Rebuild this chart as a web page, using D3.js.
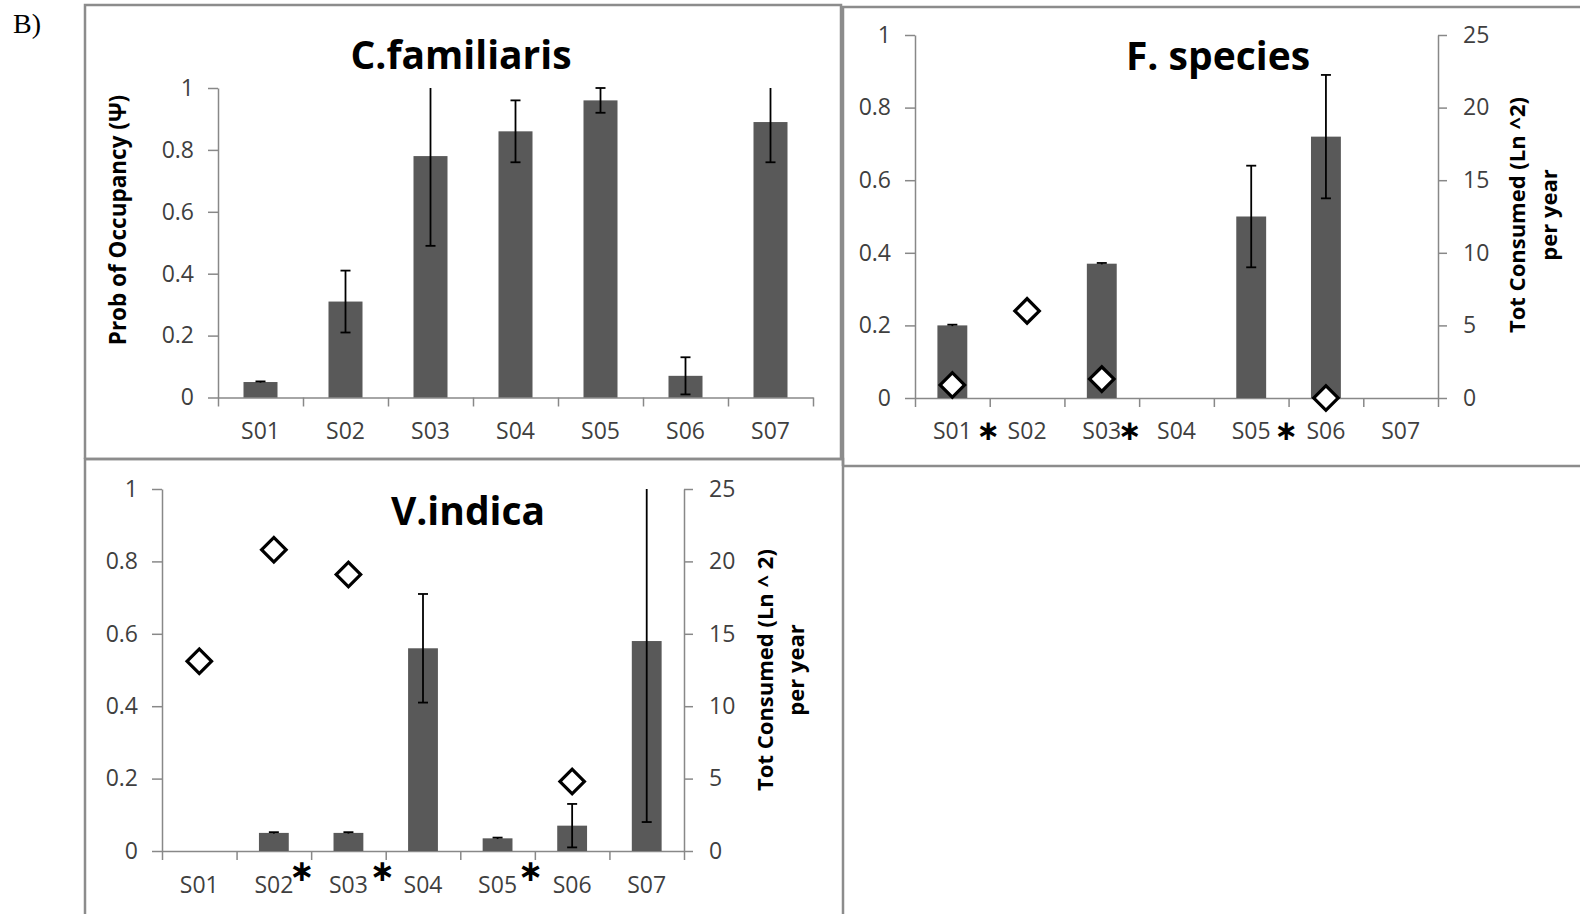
<!DOCTYPE html>
<html>
<head>
<meta charset="utf-8">
<script src="https://cdn.jsdelivr.net/npm/d3@7"></script>
<style>
  html, body { margin: 0; padding: 0; background: #fff; }
  svg { display: block; }
  text { font-family: "Open Sans", "Noto Sans", sans-serif; }
</style>
</head>
<body>
<svg id="fig" width="1580" height="914"></svg>
<script>
// ---- data ----------------------------------------------------------
const sites = ["S01", "S02", "S03", "S04", "S05", "S06", "S07"];
const occTicks = [0, 0.2, 0.4, 0.6, 0.8, 1];
const consumedTicks = [0, 5, 10, 15, 20, 25];

// Probability of occupancy (bars) with +/- error
const familiarisOcc = [0.05, 0.31, 0.78, 0.86, 0.96, 0.07, 0.89];
const familiarisErr = [0.002, 0.10, 0.29, 0.10, 0.04, 0.06, 0.13];

const speciesOcc = [0.20, null, 0.37, null, 0.50, 0.72, null];
const speciesErr = [0.002, null, 0.002, null, 0.14, 0.17, null];
// Total consumed (Ln^2) per year (diamonds, right axis)
const speciesConsumed = [0.9, 6.0, 1.3, null, null, 0, null];
const speciesStarred = ["S01", "S03", "S05"];

const indicaOcc = [null, 0.05, 0.05, 0.56, 0.035, 0.07, 0.58];
const indicaErr = [null, 0.002, 0.002, 0.15, 0.002, 0.06, 0.50];
const indicaConsumed = [13.1, 20.8, 19.1, null, null, 4.8, null];
const indicaStarred = ["S02", "S03", "S05"];

// ---- drawing -------------------------------------------------------
const svg = d3.select("#fig");
svg.append("rect").attr("width", 1580).attr("height", 914).attr("fill", "#fff");

const BAR = "#595959", AXIS = "#888888", FRAME = "#8c8c8c", TICKTXT = "#3f3f3f";

svg.append("text").text("B)")
  .attr("x", 13).attr("y", 33)
  .style("font-family", "'Liberation Serif', serif")
  .style("font-size", "28px").attr("fill", "#000");

function frame(x0, y0, x1, y1) {
  svg.append("path")
    .attr("d", `M${x0},${y1}V${y0}H${x1}V${y1}H${x0}`)
    .attr("fill", "none").attr("stroke", FRAME).attr("stroke-width", 2.5);
}

function drawPanel(p) {
  const g = svg.append("g");
  const x = d3.scaleBand().domain(sites).range([p.left, p.right])
    .paddingInner(0.6).paddingOuter(0.3);
  const edges = d3.scaleLinear().domain([0, sites.length]).range([p.left, p.right]);
  const y = d3.scaleLinear().domain([0, 1]).range([p.bottom, p.top]);

  // left axis
  g.append("g").attr("transform", `translate(${p.left},0)`)
    .call(d3.axisLeft(y).tickValues(occTicks).tickFormat(d3.format(""))
      .tickSize(10).tickSizeOuter(0).tickPadding(14));
  // category axis: boundary tick marks and centred labels
  g.append("g").attr("transform", `translate(0,${p.bottom})`)
    .call(d3.axisBottom(edges).tickValues(d3.range(sites.length + 1))
      .tickFormat("").tickSize(9).tickSizeOuter(0));
  const xl = g.append("g").attr("transform", `translate(0,${p.bottom})`)
    .call(d3.axisBottom(x).tickSize(0).tickPadding(0));
  xl.select(".domain").remove();
  xl.selectAll("text").attr("y", p.labelDy).attr("dy", "0.35em");

  let yr = null;
  if (p.consumed) {
    yr = d3.scaleLinear().domain([0, 25]).range([p.bottom, p.top]);
    g.append("g").attr("transform", `translate(${p.right},0)`)
      .call(d3.axisRight(yr).tickValues(consumedTicks)
        .tickSize(9).tickSizeOuter(0).tickPadding(16));
  }
  g.selectAll(".domain, .tick line").attr("stroke", AXIS).attr("stroke-width", 1.5);
  g.selectAll(".tick text").attr("fill", TICKTXT).style("font-size", "23px")
    .style("font-family", "'Open Sans', sans-serif");

  // bars
  const rows = sites.map((s, i) => ({ s, v: p.occ[i], e: p.err[i] })).filter(d => d.v != null);
  g.selectAll("rect.bar").data(rows).join("rect").attr("class", "bar")
    .attr("x", d => x(d.s)).attr("width", x.bandwidth())
    .attr("y", d => y(d.v)).attr("height", d => y(0) - y(d.v))
    .attr("fill", BAR);

  // error bars, clipped to the axis range (no cap where clipped)
  const cap = 5;
  rows.forEach(d => {
    const cx = x(d.s) + x.bandwidth() / 2;
    const hiRaw = d.v + d.e, loRaw = d.v - d.e;
    const hi = Math.min(hiRaw, 1), lo = Math.max(loRaw, 0);
    g.append("line").attr("x1", cx).attr("x2", cx).attr("y1", y(hi)).attr("y2", y(lo))
      .attr("stroke", "#000").attr("stroke-width", 1.8);
    if (hiRaw <= 1.0001)
      g.append("line").attr("x1", cx - cap).attr("x2", cx + cap).attr("y1", y(hi)).attr("y2", y(hi))
        .attr("stroke", "#000").attr("stroke-width", 1.8);
    if (loRaw >= -0.0001 && d.e > 0.01)
      g.append("line").attr("x1", cx - cap).attr("x2", cx + cap).attr("y1", y(lo)).attr("y2", y(lo))
        .attr("stroke", "#000").attr("stroke-width", 1.8);
  });

  // diamonds for consumption
  if (p.consumed) {
    const pts = sites.map((s, i) => ({ s, c: p.consumed[i] })).filter(d => d.c != null);
    g.selectAll("path.dia").data(pts).join("path").attr("class", "dia")
      .attr("d", d3.symbol(d3.symbolSquare, 300))
      .attr("transform", d => `translate(${x(d.s) + x.bandwidth() / 2},${yr(d.c)}) rotate(45)`)
      .attr("fill", "#fff").attr("stroke", "#000").attr("stroke-width", 3.2);
  }

  // significance asterisks next to category labels
  if (p.starred) {
    p.starred.forEach((s, i) => {
      g.append("text").text("\u2217")
        .attr("x", x(s) + x.bandwidth() / 2 + p.starDx[i])
        .attr("y", p.bottom + p.starDy)
        .attr("text-anchor", "middle")
        .style("font-family", "'DejaVu Sans', sans-serif")
        .style("font-weight", "bold")
        .style("font-size", p.starSize + "px").attr("fill", "#000");
    });
  }

  // title
  g.append("text").text(p.title)
    .attr("x", p.titleX).attr("y", p.titleY).attr("text-anchor", "middle")
    .style("font-weight", "bold").style("font-size", "39px").attr("fill", "#000");

  // axis titles
  if (p.yLabel) {
    g.append("text").text(p.yLabel)
      .attr("transform", `translate(${p.yLabelX},${p.yLabelY}) rotate(-90)`)
      .attr("text-anchor", "middle")
      .style("font-weight", "bold").style("font-size", "22.5px").attr("fill", "#000");
  }
  if (p.rLabel) {
    p.rLabel.forEach((line, i) => {
      g.append("text").text(line)
        .attr("transform", `translate(${p.rLabelX[i]},${p.rLabelY}) rotate(-90)`)
        .attr("text-anchor", "middle")
        .style("font-weight", "bold").style("font-size", "22px").attr("fill", "#000");
    });
  }
}

// panel frames
frame(85, 5, 841, 459);
frame(843, 7, 1590, 466);
frame(85, 459, 843, 925);

drawPanel({
  left: 218, right: 813, top: 88, bottom: 397.5, labelDy: 33,
  occ: familiarisOcc, err: familiarisErr,
  title: "C.familiaris", titleX: 461, titleY: 69,
  yLabel: "Prob of Occupancy (\u03A8)", yLabelX: 126, yLabelY: 220
});

drawPanel({
  left: 915, right: 1438, top: 35, bottom: 398, labelDy: 33,
  occ: speciesOcc, err: speciesErr, consumed: speciesConsumed,
  starred: speciesStarred, starDx: [36, 28, 35], starDy: 42, starSize: 28,
  title: "F. species", titleX: 1218, titleY: 70,
  rLabel: ["Tot Consumed (Ln ^2)", "per year"], rLabelX: [1525, 1557], rLabelY: 215
});

drawPanel({
  left: 162, right: 684, top: 489, bottom: 851, labelDy: 34,
  occ: indicaOcc, err: indicaErr, consumed: indicaConsumed,
  starred: indicaStarred, starDx: [28, 34, 33], starDy: 30, starSize: 30,
  title: "V.indica", titleX: 468, titleY: 525,
  rLabel: ["Tot Consumed (Ln ^ 2)", "per year"], rLabelX: [773, 804], rLabelY: 670
});
</script>
</body>
</html>
